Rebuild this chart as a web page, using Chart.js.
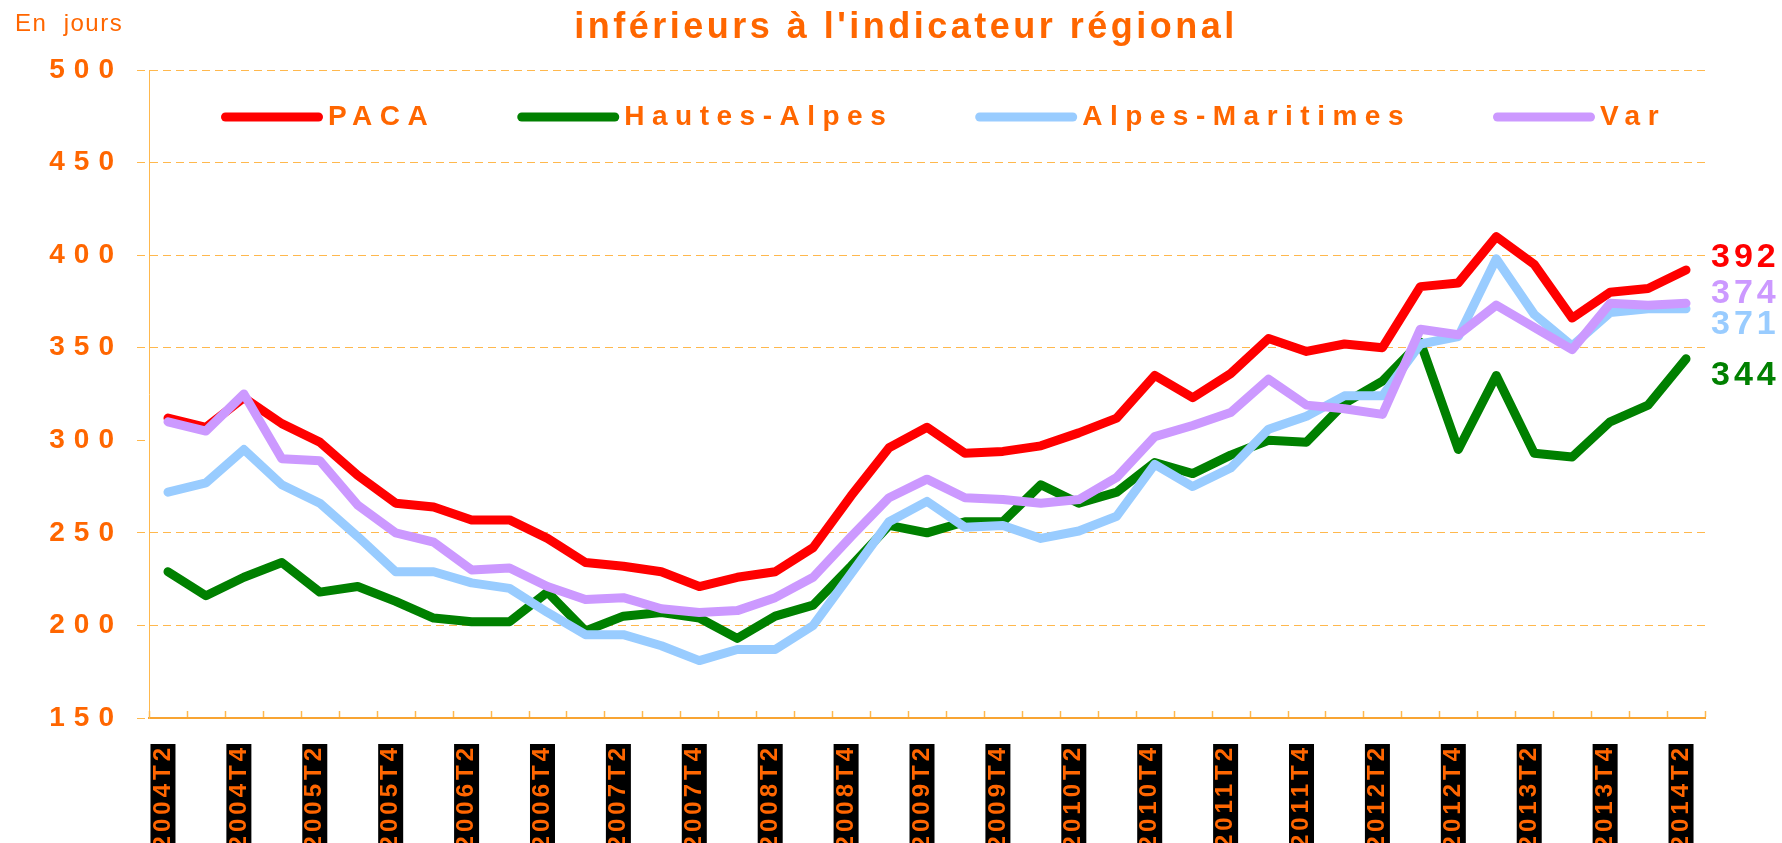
<!DOCTYPE html>
<html><head><meta charset="utf-8">
<script src="https://cdn.jsdelivr.net/npm/chart.js@4/dist/chart.umd.min.js"></script>
<style>html,body{margin:0;padding:0;background:#fff}#wrap{width:1782px;height:843px;position:relative}</style>
</head><body><div id="wrap"><canvas id="c"></canvas></div>
<script>
const quarters = ['2004T2','2004T3','2004T4','2005T1','2005T2','2005T3','2005T4','2006T1','2006T2','2006T3','2006T4',
  '2007T1','2007T2','2007T3','2007T4','2008T1','2008T2','2008T3','2008T4','2009T1','2009T2','2009T3','2009T4',
  '2010T1','2010T2','2010T3','2010T4','2011T1','2011T2','2011T3','2011T4','2012T1','2012T2','2012T3','2012T4',
  '2013T1','2013T2','2013T3','2013T4','2014T1','2014T2'];
const paca = [312,307,323,309,299,281,266,264,257,257,247,234,232,229,221,226,229,242,270,296,307,293,294,297,304,312,335,323,336,355,348,352,350,383,385,410,395,366,380,382,392];
const hautesAlpes = [229,216,226,234,218,221,213,204,202,202,218,197,205,207,204,193,205,211,232,254,250,256,256,276,266,272,288,282,292,300,299,320,332,353,295,335,293,291,310,319,344];
const alpesMaritimes = [272,277,295,276,266,248,229,229,223,220,207,195,195,189,181,187,187,200,228,256,267,253,254,247,251,259,287,275,285,306,313,324,324,352,356,398,368,351,369,371,371];
const varDept = [310,305,325,290,289,265,250,245,230,231,221,214,215,209,207,208,215,226,248,269,279,269,268,266,268,280,302,308,315,333,319,317,314,360,357,373,361,349,374,373,374];
const seriesNames = ['PACA','Hautes-Alpes','Alpes-Maritimes','Var'];
const seriesColors = ['#FF0000','#008000','#99CCFF','#CC99FF'];
const yMin = 150, yMax = 500, yStep = 50;
const titleText = "inférieurs à l'indicateur régional";
const unitText = 'En  jours';

const ORANGE = '#FF6600';
const GRID = '#FFB84D';
const FONT = '"Liberation Sans", Arial, sans-serif';

function spacedScale(Base, id, sp) {
  class S extends Base {
    _computeLabelSizes(...a) { const c = this.ctx, p = c.letterSpacing; c.letterSpacing = sp; try { return super._computeLabelSizes(...a); } finally { c.letterSpacing = p; } }
    drawLabels(...a) { const c = this.ctx, p = c.letterSpacing; c.letterSpacing = sp; try { return super.drawLabels(...a); } finally { c.letterSpacing = p; } }
  }
  S.id = id;
  return S;
}
Chart.register(spacedScale(Chart.LinearScale, 'spacedLinear', '9px'));
Chart.register(spacedScale(Chart.CategoryScale, 'spacedCategory', '4px'));

function txt(ctx, s, x, y, font, color, ls, align, base) {
  ctx.save();
  ctx.font = font; ctx.fillStyle = color; ctx.letterSpacing = ls + 'px';
  ctx.textAlign = align || 'left'; ctx.textBaseline = base || 'middle';
  ctx.fillText(s, x, y);
  const w = ctx.measureText(s).width;
  ctx.restore();
  return w;
}

const labelOffsets = [-12, 17, 16, -10];

const decor = {
  id: 'decor',
  afterDraw(chart) {
    const ctx = chart.ctx, ca = chart.chartArea;
    const xs = chart.scales.x, ys = chart.scales.y;
    // inward x ticks
    const half = (xs.getPixelForValue(1) - xs.getPixelForValue(0)) / 2;
    ctx.save();
    ctx.strokeStyle = GRID; ctx.lineWidth = 1.5;
    for (let i = 0; i <= quarters.length; i++) {
      const x = Math.round(xs.getPixelForValue(0) - half + i * 2 * half) + 0.5;
      ctx.beginPath(); ctx.moveTo(x, ca.bottom - 1); ctx.lineTo(x, ca.bottom - 7); ctx.stroke();
    }
    ctx.restore();
    // title and unit
    txt(ctx, titleText, 906, 38, 'bold 36px ' + FONT, ORANGE, 3.5, 'center', 'alphabetic');
    txt(ctx, unitText, 15, 24, '24px ' + FONT, ORANGE, 1.5, 'left', 'middle');
    // legend
    let x = ca.left + 72;
    const ly = 117;
    chart.data.datasets.forEach((ds) => {
      ctx.save();
      ctx.strokeStyle = ds.borderColor; ctx.lineWidth = 9; ctx.lineCap = 'round';
      ctx.beginPath(); ctx.moveTo(x + 4.5, ly); ctx.lineTo(x + 97.5, ly); ctx.stroke();
      ctx.restore();
      const w = txt(ctx, ds.label, x + 107, ly, 'bold 28px ' + FONT, ORANGE, 7.5, 'left', 'middle');
      x = x + 107 + w + 82;
    });
    // end value labels
    chart.data.datasets.forEach((ds, i) => {
      const v = ds.data[ds.data.length - 1];
      const y = ys.getPixelForValue(v) + labelOffsets[i];
      txt(ctx, String(v), 1711, y, 'bold 34px ' + FONT, ds.borderColor, 4, 'left', 'middle');
    });
  }
};

const seriesData = [paca, hautesAlpes, alpesMaritimes, varDept];
const drawOrder = [3, 2, 1, 0];
new Chart(document.getElementById('c'), {
  type: 'line',
  data: {
    labels: quarters,
    datasets: seriesData.map((d, i) => ({
      label: seriesNames[i], data: d, borderColor: seriesColors[i], backgroundColor: seriesColors[i],
      borderWidth: 9, pointRadius: 0, tension: 0, borderCapStyle: 'round', borderJoinStyle: 'round',
      fill: false, order: drawOrder[i]
    }))
  },
  options: {
    responsive: true, maintainAspectRatio: false, animation: false, events: [],
    layout: { padding: { top: 70, right: 77, left: 0, bottom: 0 } },
    plugins: { legend: { display: false }, tooltip: { enabled: false }, title: { display: false } },
    scales: {
      x: {
        type: 'spacedCategory', position: 'bottom', offset: true,
        afterFit: s => { s.height = 125; },
        grid: { display: false },
        border: { display: true, color: '#F8A432', width: 2 },
        ticks: {
          autoSkip: false, minRotation: 90, maxRotation: 90, color: ORANGE, padding: 18, labelOffset: -17,
          font: { family: FONT, size: 24, weight: 'bold', lineHeight: 1 },
          showLabelBackdrop: true,
          backdropColor: c => (c.index % 2 === 0 ? '#000000' : 'rgba(0,0,0,0)'),
          backdropPadding: { top: 0.5, bottom: 0.5, left: 4, right: 0 },
          callback: (v, i) => (i % 2 === 0 ? quarters[i] : '')
        }
      },
      y: {
        type: 'spacedLinear', position: 'left', min: yMin, max: yMax,
        afterFit: s => { s.width = 149; },
        grid: {
          color: c => (c.tick && c.tick.value === 300 ? 'rgba(0,0,0,0)' : GRID),
          lineWidth: 1, tickLength: 12, tickColor: GRID, tickBorderDash: [8, 5]
        },
        border: { display: true, color: GRID, width: 1, dash: [8, 5] },
        ticks: {
          stepSize: yStep, color: ORANGE, padding: 14,
          font: { family: FONT, size: 28, weight: 'bold' }
        }
      }
    }
  },
  plugins: [decor]
});
</script></body></html>
